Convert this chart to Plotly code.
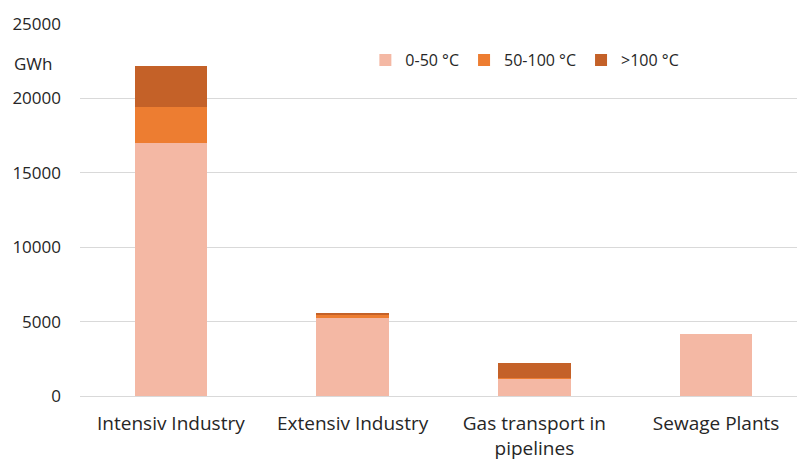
import plotly.graph_objects as go

categories = ["Intensiv Industry", "Extensiv Industry", "Gas transport in<br>pipelines", "Sewage Plants"]
low_temp = [17000, 5250, 1150, 4150]      # 0-50 °C
mid_temp = [2420, 200, 80, 0]             # 50-100 °C
high_temp = [2780, 130, 970, 0]           # >100 °C
y_ticks = [0, 5000, 10000, 15000, 20000, 25000]

series = [
    ("0-50 °C", low_temp, "#F4B8A4"),
    ("50-100 °C", mid_temp, "#ED7D31"),
    (">100 °C", high_temp, "#C46128"),
]

font_family = "Open Sans, Noto Sans, sans-serif"

fig = go.Figure()
for name, vals, color in series:
    fig.add_trace(go.Bar(
        x=list(range(len(categories))),
        y=vals,
        name=name,
        marker=dict(color=color, line=dict(width=0)),
        width=0.4,
    ))

fig.update_layout(
    barmode="stack",
    width=797,
    height=459,
    margin=dict(l=80, r=0, t=24, b=63, autoexpand=False),
    paper_bgcolor="white",
    plot_bgcolor="white",
    font=dict(family=font_family, size=17, color="#262626"),
    showlegend=True,
    legend=dict(
        orientation="h",
        x=0.398, y=0.903, xanchor="left", yanchor="middle",
        xref="paper", yref="paper",
        font=dict(size=16, color="#262626"),
        itemwidth=30,
        traceorder="normal",
        bgcolor="rgba(0,0,0,0)",
    ),
    xaxis=dict(
        tickmode="array",
        tickvals=list(range(len(categories))),
        ticktext=categories,
        range=[-0.5, 3.445],
        showgrid=False,
        showline=False,
        zeroline=False,
        ticks="",
        ticklabelstandoff=14,
        tickfont=dict(size=19, color="#262626"),
    ),
    yaxis=dict(
        range=[0, 25000],
        tickvals=y_ticks,
        ticktext=[str(v) for v in y_ticks],
        showgrid=True,
        gridcolor="#D9D9D9",
        gridwidth=1,
        zeroline=True,
        zerolinecolor="#D9D9D9",
        zerolinewidth=1,
        showline=False,
        ticks="",
        ticklabelstandoff=18,
        tickfont=dict(size=17, color="#262626"),
    ),
    annotations=[dict(
        text="GWh", xref="paper", yref="paper",
        x=-0.095, y=0.895, xanchor="left", yanchor="middle",
        showarrow=False, font=dict(size=17, color="#262626"),
    )],
)

fig.write_html("out.html")
